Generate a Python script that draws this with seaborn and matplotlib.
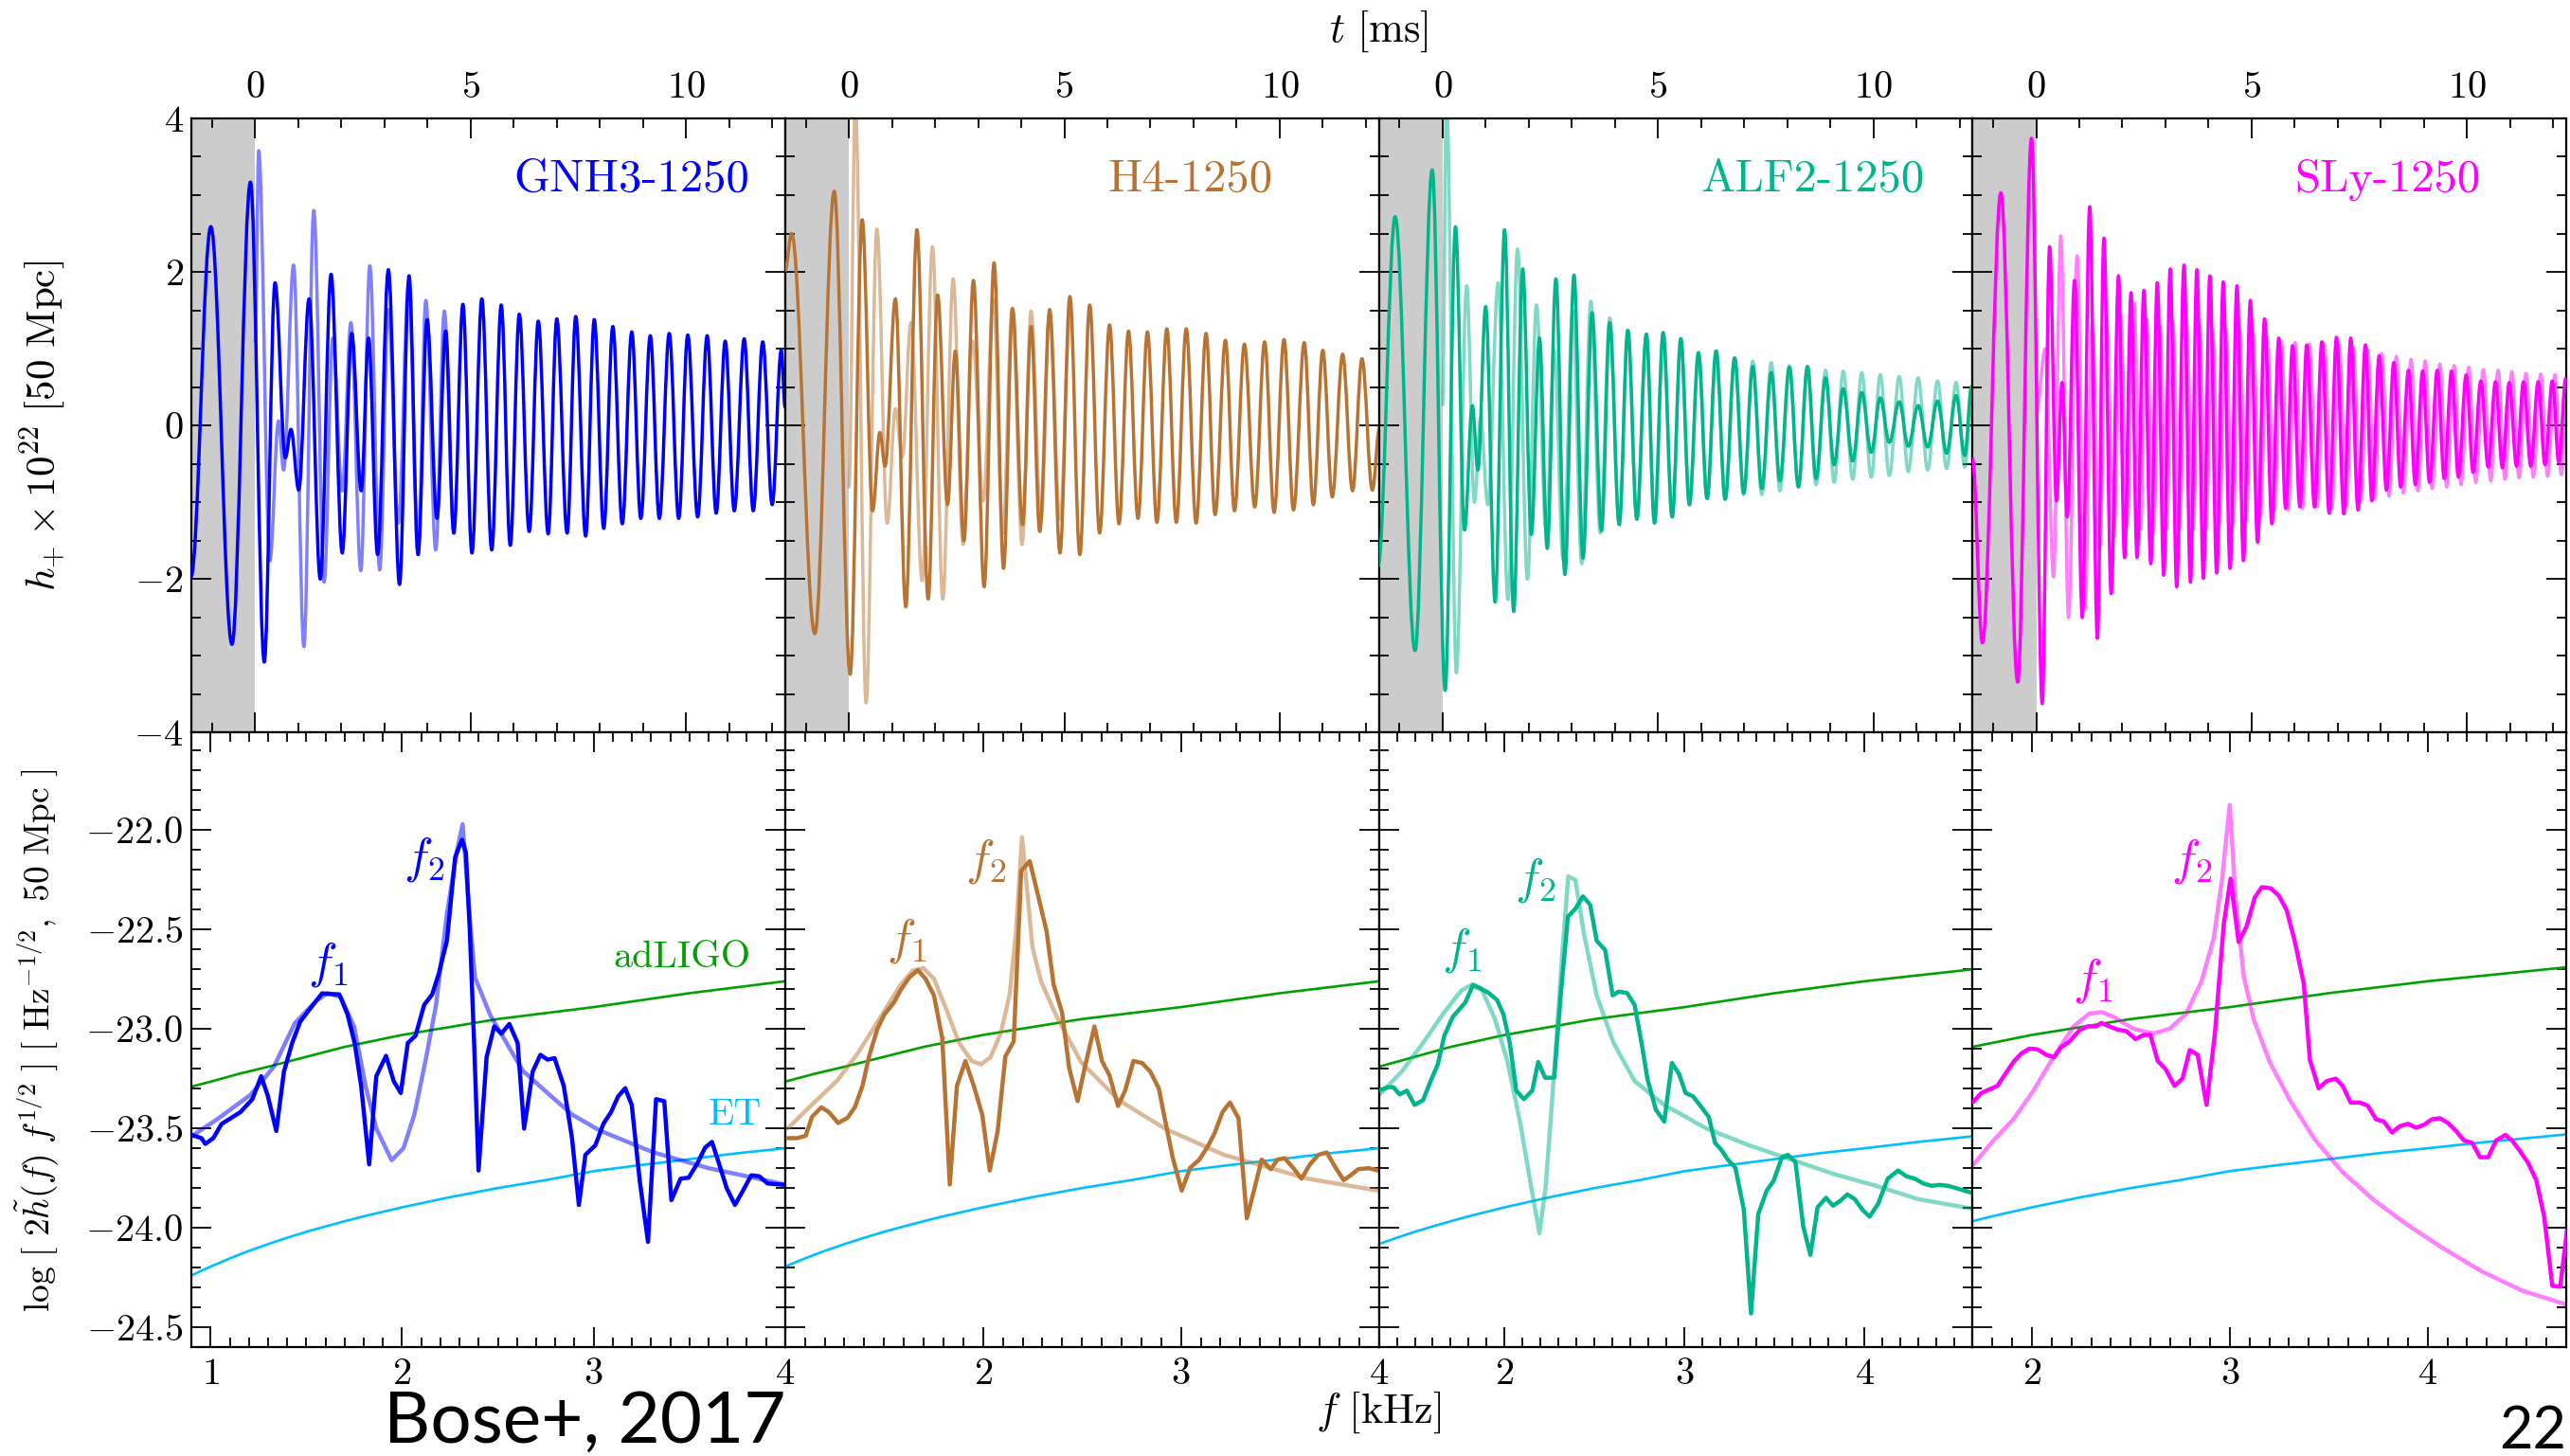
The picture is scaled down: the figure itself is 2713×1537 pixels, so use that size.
import numpy as np
import matplotlib
matplotlib.use("Agg")
import matplotlib.pyplot as plt
import seaborn as sns
from matplotlib.path import Path
from matplotlib.patches import PathPatch
from matplotlib.ticker import MultipleLocator, FixedLocator, FuncFormatter

# ---------------------------------------------------------------- data
MODELS = ["GNH3-1250", "H4-1250", "ALF2-1250", "SLy-1250"]
COLORS = ["#0000ff", "#b87333", "#00b48c", "#ff00ff"]
F_LIMITS = [(0.9, 4.0), (1.0, 4.0), (1.3, 4.6), (1.7, 4.7)]
F_MAJOR = [[1, 2, 3, 4], [2, 3, 4], [2, 3, 4], [2, 3, 4]]
T_LIMITS = (-1.48, 12.3)

# f1 / f2 annotation anchors (kHz, log amplitude)
F1_POS = [(1.61, -22.675), (1.614, -22.556), (1.762, -22.603), (2.308, -22.754)]
F2_POS = [(2.115, -22.148), (2.013, -22.156), (2.169, -22.251), (2.808, -22.156)]

# detector sensitivity curves, log[ sqrt(f) S_n^{1/2} ]
ADLIGO_F = [0.9, 1.0, 1.15, 1.3, 1.5, 1.7, 2.0, 2.25, 2.5, 2.75, 3.0, 3.25, 3.5, 3.75, 4.0, 4.3, 4.6, 4.7]
ADLIGO = [-23.29, -23.265, -23.225, -23.19, -23.14, -23.09, -23.03, -22.99, -22.95, -22.92,
          -22.89, -22.855, -22.82, -22.79, -22.76, -22.73, -22.70, -22.69]
ET_F = [0.9, 0.95, 1.0, 1.1, 1.2, 1.3, 1.4, 1.5, 1.6, 1.7, 1.8, 2.0, 2.25, 2.5, 2.75, 3.0,
        3.25, 3.5, 3.75, 4.0, 4.3, 4.6, 4.7]
ET = [-24.24, -24.217, -24.195, -24.154, -24.116, -24.082, -24.05, -24.02, -23.993, -23.967, -23.942,
      -23.897, -23.846, -23.80, -23.76, -23.715, -23.684, -23.655, -23.625, -23.60, -23.568, -23.54, -23.53]

# time-domain strain h_+ x 1e22 (t in ms): turning points of the waveform
GNH3_WAVE = [(-1.49, -1.97), (-1.03, 2.59), (-0.54, -2.85), (-0.11, 3.17), (0.21, -3.08), (0.46, 1.86),
             (0.70, -0.42), (0.83, -0.05), (1.01, -0.84), (1.25, 1.65), (1.51, -2.00), (1.76, 1.97),
             (2.02, -1.66), (2.24, 1.20), (2.46, -0.85), (2.63, 1.14), (2.84, -1.68), (3.09, 2.03),
             (3.35, -2.07), (3.57, 1.95), (3.78, -1.68), (3.99, 1.38), (4.22, -1.21), (4.42, 1.23),
             (4.61, -1.40), (4.82, 1.58), (5.03, -1.66), (5.26, 1.65), (5.49, -1.62), (5.71, 1.57),
             (5.92, -1.56), (6.13, 1.45), (6.36, -1.38), (6.57, 1.36), (6.80, -1.41), (7.00, 1.39),
             (7.24, -1.40), (7.44, 1.42), (7.67, -1.44), (7.87, 1.38), (8.09, -1.34), (8.30, 1.29),
             (8.52, -1.28), (8.74, 1.22), (8.95, -1.21), (9.17, 1.17), (9.38, -1.21), (9.61, 1.20),
             (9.83, -1.21), (10.04, 1.18), (10.27, -1.19), (10.49, 1.17), (10.70, -1.14), (10.91, 1.10),
             (11.12, -1.11), (11.35, 1.13), (11.56, -1.11), (11.78, 1.09), (12.00, -1.03), (12.21, 0.98),
             (12.30, 0.24)]
GNH3_WAVE_FIT = [(0.00, 1.10), (0.08, 3.58), (0.34, -1.76), (0.54, 0.06), (0.66, -0.58), (0.89, 2.09),
                 (1.13, -2.88), (1.36, 2.80), (1.60, -2.04), (1.80, 1.14), (2.02, -0.85), (2.22, 1.34),
                 (2.45, -1.89), (2.66, 2.08), (2.89, -1.88), (3.09, 1.51), (3.32, -1.27), (3.56, 1.86),
                 (3.78, -1.68), (3.96, 1.63), (4.19, -1.62), (4.39, 1.49), (4.61, -1.40)]

H4_WAVE = [(-1.48, 2.02), (-1.33, 2.50), (-0.79, -2.71), (-0.34, 3.05), (0.03, -3.24), (0.31, 2.68),
           (0.55, -1.11), (0.72, -0.09), (0.84, -0.53), (1.08, 1.65), (1.32, -2.36), (1.58, 2.55),
           (1.84, -2.26), (2.06, 1.70), (2.29, -1.03), (2.47, 0.97), (2.67, -1.50), (2.89, 1.89),
           (3.14, -2.10), (3.37, 2.12), (3.59, -1.86), (3.80, 1.52), (4.03, -1.29), (4.23, 1.29),
           (4.43, -1.38), (4.66, 1.51), (4.90, -1.66), (5.13, 1.68), (5.36, -1.68), (5.59, 1.57),
           (5.82, -1.40), (6.05, 1.31), (6.27, -1.28), (6.49, 1.23), (6.71, -1.21), (6.93, 1.22),
           (7.15, -1.26), (7.38, 1.26), (7.60, -1.26), (7.83, 1.26), (8.06, -1.27), (8.29, 1.20),
           (8.50, -1.16), (8.74, 1.11), (8.95, -1.11), (9.18, 1.06), (9.42, -1.06), (9.65, 1.09),
           (9.87, -1.13), (10.10, 1.12), (10.32, -1.10), (10.57, 1.08), (10.78, -1.03), (11.00, 0.98),
           (11.22, -0.93), (11.46, 0.93), (11.69, -0.85), (11.91, 0.87), (12.15, -0.84), (12.32, -0.02)]
H4_WAVE_FIT = [(0.00, -0.80), (0.15, 4.15), (0.40, -3.61), (0.65, 2.56), (0.89, -1.27), (1.08, 0.22),
               (1.24, -0.41), (1.44, 1.34), (1.70, -2.02), (1.94, 2.33), (2.18, -2.26), (2.42, 1.91),
               (2.65, -1.55), (2.87, 1.10), (3.12, -0.98), (3.35, 1.65), (3.57, -1.40), (3.79, 1.53),
               (4.02, -1.55), (4.23, 1.49), (4.46, -1.24), (4.66, 1.45), (4.90, -1.22), (5.13, 1.40)]

ALF2_WAVE = [(-1.50, -1.84), (-1.10, 2.72), (-0.64, -2.93), (-0.24, 3.33), (0.06, -3.45), (0.30, 2.59),
             (0.51, -1.36), (0.69, 0.26), (0.82, -0.58), (1.00, 1.55), (1.22, -2.30), (1.44, 2.55),
             (1.65, -2.42), (1.86, 2.04), (2.06, -1.42), (2.25, 1.14), (2.43, -1.60), (2.63, 1.91),
             (2.84, -1.94), (3.05, 1.96), (3.26, -1.73), (3.47, 1.47), (3.69, -1.37), (3.88, 1.34),
             (4.10, -1.29), (4.30, 1.24), (4.51, -1.22), (4.73, 1.19), (4.92, -1.27), (5.12, 1.21),
             (5.33, -1.19), (5.53, 1.13), (5.73, -1.03), (5.94, 0.95), (6.14, -0.95), (6.35, 0.97),
             (6.56, -0.96), (6.78, 0.88), (6.99, -0.88), (7.20, 0.77), (7.41, -0.82), (7.63, 0.69),
             (7.83, -0.72), (8.05, 0.76), (8.26, -0.80), (8.47, 0.77), (8.67, -0.69), (8.89, 0.62),
             (9.09, -0.51), (9.30, 0.48), (9.52, -0.46), (9.73, 0.43), (9.95, -0.35), (10.16, 0.36),
             (10.37, -0.22), (10.60, 0.31), (10.81, -0.27), (11.04, 0.26), (11.26, -0.28), (11.49, 0.32),
             (11.70, -0.36), (11.92, 0.39), (12.12, -0.39), (12.28, 0.51)]
ALF2_WAVE_FIT = [(0.00, 0.27), (0.09, 4.30), (0.32, -3.22), (0.56, 1.82), (0.74, -1.00), (0.88, 0.10),
                 (1.05, -1.03), (1.29, 1.86), (1.52, -2.27), (1.74, 2.30), (1.97, -2.00), (2.18, 1.57),
                 (2.40, -1.35), (2.59, 0.98), (2.80, -1.75), (3.02, 1.50), (3.23, -1.80), (3.44, 1.62),
                 (3.66, -1.40), (3.88, 1.40), (4.10, -1.29), (4.30, 1.24), (4.51, -1.22), (4.73, 1.19),
                 (4.92, -1.27), (5.12, 1.21), (5.33, -1.19), (5.53, 1.13), (5.73, -1.03), (5.94, 0.95),
                 (6.14, -0.95), (6.35, 0.97), (6.56, -0.96), (6.78, 0.88), (6.99, -0.90), (7.20, 0.84),
                 (7.41, -0.90), (7.63, 0.82), (7.83, -0.85), (8.05, 0.78), (8.26, -0.80), (8.47, 0.74),
                 (8.67, -0.77), (8.89, 0.72), (9.09, -0.74), (9.30, 0.71), (9.52, -0.70), (9.73, 0.69),
                 (9.95, -0.67), (10.16, 0.66), (10.37, -0.65), (10.60, 0.64), (10.81, -0.60), (11.04, 0.62),
                 (11.26, -0.58), (11.49, 0.58), (11.70, -0.56), (11.92, 0.56), (12.12, -0.54), (12.28, 0.30)]

SLY_WAVE = [(-1.48, -0.43), (-1.25, -2.83), (-0.82, 3.03), (-0.43, -3.34), (-0.11, 3.74), (0.14, -3.62),
            (0.31, 2.33), (0.47, -0.98), (0.60, 0.56), (0.72, -1.19), (0.89, 1.89), (1.07, -2.50),
            (1.24, 2.85), (1.42, -2.77), (1.57, 2.44), (1.74, -2.19), (1.91, 1.95), (2.05, -1.72),
            (2.20, 1.73), (2.34, -1.72), (2.50, 1.76), (2.66, -1.80), (2.81, 1.86), (2.96, -1.95),
            (3.11, 2.04), (3.26, -2.10), (3.43, 2.09), (3.58, -2.04), (3.73, 2.03), (3.88, -1.99),
            (4.03, 1.95), (4.19, -1.92), (4.34, 1.87), (4.50, -1.86), (4.66, 1.82), (4.81, -1.76),
            (4.97, 1.63), (5.14, -1.52), (5.30, 1.39), (5.47, -1.28), (5.63, 1.14), (5.79, -1.08),
            (5.95, 1.04), (6.12, -1.06), (6.28, 1.05), (6.46, -1.06), (6.63, 1.09), (6.80, -1.14),
            (6.97, 1.15), (7.14, -1.15), (7.30, 1.14), (7.47, -1.10), (7.64, 1.05), (7.79, -0.98),
            (7.96, 0.91), (8.13, -0.84), (8.30, 0.82), (8.46, -0.80), (8.64, 0.72), (8.80, -0.77),
            (8.97, 0.71), (9.13, -0.74), (9.31, 0.72), (9.47, -0.69), (9.64, 0.71), (9.80, -0.67),
            (9.98, 0.66), (10.14, -0.61), (10.32, 0.58), (10.49, -0.54), (10.66, 0.57), (10.82, -0.55),
            (10.98, 0.56), (11.15, -0.53), (11.31, 0.57), (11.48, -0.53), (11.65, 0.57), (11.81, -0.51),
            (11.98, 0.58), (12.13, -0.48), (12.29, 0.61)]
SLY_WAVE_FIT = [(0.00, 0.14), (0.21, 1.00), (0.40, -1.97), (0.57, 2.47), (0.75, -2.50), (0.95, 2.21),
                (1.13, -2.40), (1.30, 1.30), (1.47, -1.60), (1.63, 1.40), (1.80, -1.45), (1.96, 1.45),
                (2.11, -1.30), (2.27, 1.60), (2.42, -1.35), (2.56, 1.38), (2.72, -1.40), (2.87, 1.30),
                (3.02, -1.35), (3.17, 1.35), (3.32, -1.35), (3.49, 1.30), (3.64, -1.35), (3.79, 1.30),
                (3.94, -1.35), (4.09, 1.25), (4.25, -1.30), (4.40, 1.25), (4.56, -1.30), (4.72, 1.25),
                (4.87, -1.25), (5.03, 1.20), (5.20, -1.20), (5.36, 1.15), (5.53, -1.10), (5.69, 1.10),
                (5.85, -1.10), (6.01, 1.08), (6.18, -1.08), (6.34, 1.06), (6.52, -1.06), (6.69, 1.06),
                (6.86, -1.08), (7.03, 1.05), (7.20, -1.05), (7.36, 1.02), (7.53, -1.00), (7.70, 0.98),
                (7.85, -0.96), (8.02, 0.94), (8.19, -0.92), (8.36, 0.90), (8.52, -0.88), (8.70, 0.86),
                (8.86, -0.85), (9.03, 0.84), (9.19, -0.82), (9.37, 0.80), (9.53, -0.80), (9.70, 0.78),
                (9.86, -0.77), (10.04, 0.76), (10.20, -0.74), (10.38, 0.73), (10.55, -0.72), (10.72, 0.72),
                (10.88, -0.70), (11.04, 0.70), (11.21, -0.68), (11.37, 0.68), (11.54, -0.67), (11.71, 0.67),
                (11.87, -0.66), (12.04, 0.66), (12.19, -0.64), (12.30, 0.30)]

# frequency-domain spectra log[ 2|h~(f)| f^{1/2} ] (f in kHz)
GNH3_SPEC = [(0.901, -23.533), (0.952, -23.549), (0.972, -23.578), (1.014, -23.549), (1.057, -23.478),
             (1.156, -23.418), (1.218, -23.353), (1.264, -23.238), (1.298, -23.334), (1.343, -23.513),
             (1.383, -23.214), (1.426, -23.070), (1.468, -22.963), (1.525, -22.891), (1.582, -22.821),
             (1.624, -22.824), (1.672, -22.826), (1.715, -22.927), (1.752, -23.070), (1.786, -23.286),
             (1.828, -23.681), (1.865, -23.238), (1.916, -23.135), (1.956, -23.262), (1.993, -23.322),
             (2.030, -23.070), (2.070, -23.034), (2.115, -22.879), (2.157, -22.826), (2.191, -22.723),
             (2.234, -22.556), (2.277, -22.136), (2.313, -22.048), (2.333, -22.113), (2.353, -22.496),
             (2.376, -23.070), (2.399, -23.712), (2.441, -23.142), (2.481, -22.987), (2.518, -23.023),
             (2.560, -22.975), (2.603, -23.070), (2.637, -23.501), (2.682, -23.214), (2.722, -23.130),
             (2.759, -23.154), (2.796, -23.147), (2.844, -23.286), (2.887, -23.549), (2.923, -23.885),
             (2.957, -23.633), (3.009, -23.585), (3.051, -23.477), (3.091, -23.418), (3.128, -23.339),
             (3.165, -23.298), (3.199, -23.382), (3.241, -23.765), (3.284, -24.071), (3.326, -23.353),
             (3.369, -23.363), (3.406, -23.861), (3.454, -23.753), (3.496, -23.748), (3.539, -23.681),
             (3.582, -23.597), (3.618, -23.568), (3.652, -23.669), (3.695, -23.801), (3.738, -23.885),
             (3.780, -23.813), (3.823, -23.736), (3.865, -23.741), (3.908, -23.777), (3.993, -23.784)]
GNH3_SPEC_FIT = [(0.90, -23.54), (1.04, -23.45), (1.21, -23.33), (1.33, -23.19), (1.44, -22.97),
                 (1.55, -22.86), (1.61, -22.82), (1.68, -22.84), (1.75, -22.99), (1.81, -23.29),
                 (1.865, -23.50), (1.945, -23.66), (2.007, -23.60), (2.064, -23.43), (2.12, -23.17),
                 (2.177, -22.88), (2.234, -22.42), (2.285, -22.11), (2.316, -21.97), (2.348, -22.38),
                 (2.38, -22.74), (2.46, -22.93), (2.63, -23.21), (2.745, -23.31), (2.887, -23.43),
                 (3.03, -23.51), (3.31, -23.62), (3.60, -23.70), (3.99, -23.78)]

H4_SPEC = [(1.013, -23.549), (1.062, -23.549), (1.104, -23.537), (1.136, -23.442), (1.183, -23.394),
           (1.221, -23.418), (1.268, -23.473), (1.316, -23.446), (1.352, -23.394), (1.391, -23.286),
           (1.423, -23.142), (1.465, -23.003), (1.501, -22.927), (1.550, -22.867), (1.582, -22.807),
           (1.628, -22.740), (1.671, -22.704), (1.709, -22.747), (1.752, -22.831), (1.794, -23.046),
           (1.832, -23.782), (1.868, -23.286), (1.911, -23.161), (1.953, -23.286), (1.996, -23.430),
           (2.034, -23.712), (2.074, -23.513), (2.113, -23.137), (2.155, -23.063), (2.193, -22.204),
           (2.236, -22.156), (2.278, -22.328), (2.321, -22.508), (2.357, -22.778), (2.399, -22.915),
           (2.435, -23.195), (2.478, -23.363), (2.516, -23.185), (2.563, -22.987), (2.601, -23.161),
           (2.639, -23.233), (2.682, -23.387), (2.718, -23.310), (2.760, -23.161), (2.803, -23.171),
           (2.845, -23.214), (2.888, -23.298), (2.924, -23.478), (2.958, -23.645), (3.004, -23.813),
           (3.047, -23.698), (3.093, -23.657), (3.132, -23.597), (3.170, -23.525), (3.210, -23.418),
           (3.248, -23.370), (3.291, -23.449), (3.333, -23.952), (3.369, -23.813), (3.408, -23.657),
           (3.454, -23.705), (3.488, -23.657), (3.524, -23.650), (3.567, -23.698), (3.609, -23.753),
           (3.652, -23.681), (3.694, -23.633), (3.737, -23.621), (3.779, -23.693), (3.822, -23.760),
           (3.858, -23.736), (3.896, -23.705), (3.949, -23.700), (3.998, -23.712)]
H4_SPEC_FIT = [(1.013, -23.50), (1.136, -23.38), (1.263, -23.26), (1.369, -23.12), (1.476, -22.95),
               (1.582, -22.78), (1.645, -22.706), (1.699, -22.694), (1.752, -22.747), (1.815, -22.903),
               (1.879, -23.07), (1.943, -23.161), (1.99, -23.178), (2.038, -23.142), (2.09, -23.02),
               (2.134, -22.83), (2.166, -22.52), (2.197, -22.036), (2.223, -22.304), (2.25, -22.59),
               (2.293, -22.76), (2.367, -22.927), (2.495, -23.166), (2.686, -23.358), (2.919, -23.501),
               (3.217, -23.633), (3.429, -23.693), (3.641, -23.753), (3.998, -23.813)]

ALF2_SPEC = [(1.299, -23.310), (1.353, -23.293), (1.381, -23.293), (1.416, -23.329), (1.456, -23.310),
             (1.499, -23.382), (1.546, -23.358), (1.588, -23.262), (1.628, -23.178), (1.664, -23.034),
             (1.711, -22.939), (1.781, -22.867), (1.824, -22.778), (1.864, -22.795), (1.911, -22.819),
             (1.958, -22.855), (1.993, -22.927), (2.028, -23.070), (2.064, -23.310), (2.106, -23.353),
             (2.153, -23.310), (2.186, -23.166), (2.224, -23.245), (2.275, -23.245), (2.311, -22.831),
             (2.351, -22.436), (2.393, -22.395), (2.435, -22.333), (2.475, -22.376), (2.511, -22.556),
             (2.558, -22.603), (2.600, -22.831), (2.633, -22.812), (2.680, -22.819), (2.722, -22.879),
             (2.765, -23.094), (2.793, -23.250), (2.840, -23.406), (2.887, -23.466), (2.929, -23.171),
             (2.969, -23.226), (3.005, -23.322), (3.047, -23.339), (3.094, -23.394), (3.134, -23.442),
             (3.169, -23.573), (3.205, -23.609), (3.240, -23.657), (3.282, -23.698), (3.329, -23.909),
             (3.369, -24.431), (3.409, -23.932), (3.456, -23.813), (3.494, -23.765), (3.541, -23.645),
             (3.574, -23.633), (3.616, -23.669), (3.659, -23.992), (3.699, -24.136), (3.739, -23.897),
             (3.786, -23.849), (3.824, -23.889), (3.864, -23.865), (3.904, -23.832), (3.946, -23.856),
             (3.988, -23.909), (4.028, -23.944), (4.075, -23.880), (4.129, -23.753), (4.186, -23.712),
             (4.233, -23.741), (4.280, -23.753), (4.327, -23.777), (4.374, -23.789), (4.416, -23.784),
             (4.464, -23.789), (4.511, -23.801), (4.600, -23.825)]
ALF2_SPEC_FIT = [(1.299, -23.334), (1.428, -23.214), (1.546, -23.070), (1.664, -22.915), (1.758, -22.807),
                 (1.816, -22.778), (1.875, -22.807), (1.946, -22.951), (2.016, -23.166), (2.087, -23.477),
                 (2.146, -23.789), (2.193, -24.028), (2.228, -23.789), (2.275, -23.214), (2.322, -22.591),
                 (2.353, -22.232), (2.393, -22.251), (2.44, -22.52), (2.511, -22.831), (2.605, -23.070),
                 (2.722, -23.262), (2.887, -23.382), (3.122, -23.501), (3.358, -23.585), (3.593, -23.657),
                 (3.828, -23.729), (4.064, -23.789), (4.299, -23.856), (4.6, -23.904)]

SLY_SPEC = [(1.700, -23.370), (1.745, -23.322), (1.826, -23.286), (1.866, -23.226), (1.907, -23.166),
            (1.947, -23.123), (1.988, -23.099), (2.028, -23.102), (2.073, -23.130), (2.113, -23.142),
            (2.146, -23.094), (2.190, -23.063), (2.241, -23.006), (2.281, -22.987), (2.322, -22.987),
            (2.352, -22.970), (2.393, -22.987), (2.433, -23.003), (2.478, -23.011), (2.524, -23.051),
            (2.565, -23.030), (2.599, -23.030), (2.636, -23.161), (2.676, -23.202), (2.721, -23.286),
            (2.761, -23.250), (2.798, -23.106), (2.838, -23.130), (2.883, -23.382), (2.925, -23.023),
            (2.970, -22.472), (3.004, -22.244), (3.045, -22.563), (3.085, -22.484), (3.126, -22.340),
            (3.162, -22.287), (3.206, -22.292), (3.247, -22.328), (3.287, -22.400), (3.328, -22.556),
            (3.374, -22.771), (3.405, -23.154), (3.449, -23.298), (3.490, -23.262), (3.536, -23.250),
            (3.571, -23.286), (3.611, -23.370), (3.658, -23.370), (3.698, -23.386), (3.739, -23.454),
            (3.779, -23.466), (3.820, -23.521), (3.860, -23.489), (3.901, -23.477), (3.941, -23.497),
            (3.982, -23.482), (4.022, -23.454), (4.063, -23.449), (4.103, -23.473), (4.144, -23.513),
            (4.184, -23.561), (4.225, -23.573), (4.265, -23.645), (4.306, -23.645), (4.346, -23.561),
            (4.393, -23.533), (4.427, -23.561), (4.468, -23.616), (4.508, -23.674), (4.549, -23.760),
            (4.589, -23.944), (4.630, -24.292), (4.670, -24.296), (4.704, -24.016)]
SLY_SPEC_FIT = [(1.70, -23.688), (1.806, -23.561), (1.907, -23.454), (2.008, -23.310), (2.109, -23.142),
                (2.211, -22.987), (2.291, -22.922), (2.352, -22.915), (2.413, -22.939), (2.514, -22.999),
                (2.615, -23.023), (2.696, -22.999), (2.777, -22.927), (2.858, -22.759), (2.919, -22.544),
                (2.960, -22.256), (3.000, -21.873), (3.030, -22.352), (3.071, -22.735), (3.121, -22.951),
                (3.202, -23.166), (3.304, -23.358), (3.425, -23.549), (3.567, -23.717), (3.729, -23.861),
                (3.891, -23.980), (4.073, -24.100), (4.275, -24.220), (4.478, -24.316), (4.704, -24.387)]

WAVES = [GNH3_WAVE, H4_WAVE, ALF2_WAVE, SLY_WAVE]
WAVE_FITS = [GNH3_WAVE_FIT, H4_WAVE_FIT, ALF2_WAVE_FIT, SLY_WAVE_FIT]
SPECS = [GNH3_SPEC, H4_SPEC, ALF2_SPEC, SLY_SPEC]
SPEC_FITS = [GNH3_SPEC_FIT, H4_SPEC_FIT, ALF2_SPEC_FIT, SLY_SPEC_FIT]

# ---------------------------------------------------------------- style
sns.set_theme(style="ticks")
plt.rcParams.update({
    "font.family": ["cmr10", "DejaVu Serif"],
    "mathtext.fontset": "cm",
    "axes.formatter.use_mathtext": True,
    "axes.edgecolor": "black",
    "axes.linewidth": 1.6,
    "axes.facecolor": "white",
    "figure.facecolor": "white",
    "xtick.color": "black",
    "ytick.color": "black",
    "text.color": "black",
})

TICK_FS = 29
ADLIGO_C = "#00a000"
ET_C = "#00bfff"
SHADE_C = "#cccccc"

fig, axes = plt.subplots(2, 4, figsize=(27.13, 15.37), dpi=100)
fig.subplots_adjust(left=0.0745, right=0.9985, top=0.9187, bottom=0.0748, wspace=0, hspace=0)


def style_ticks(ax):
    ax.tick_params(which="both", direction="in", top=True, bottom=True, left=True, right=True,
                   width=1.3, colors="black", labelsize=TICK_FS)
    ax.tick_params(which="major", length=15)
    ax.tick_params(which="minor", length=7.5)


def line(ax, pts, color, lw, alpha=1.0, z=2):
    arr = np.asarray(pts, dtype=float)
    sns.lineplot(x=arr[:, 0], y=arr[:, 1], ax=ax, color=color, lw=lw, alpha=alpha,
                 estimator=None, sort=False, errorbar=None, zorder=z)


def wave(ax, pts, color, lw, alpha=1.0, z=2):
    """Oscillating strain drawn through its turning points, each half cycle
    rendered as a cubic segment with flat tangents at the crest and trough."""
    arr = np.asarray(pts, dtype=float)
    k = 0.3642
    verts = [tuple(arr[0])]
    codes = [Path.MOVETO]
    for (t0, h0), (t1, h1) in zip(arr[:-1], arr[1:]):
        dt = t1 - t0
        verts += [(t0 + k * dt, h0), (t1 - k * dt, h1), (t1, h1)]
        codes += [Path.CURVE4] * 3
    ax.add_patch(PathPatch(Path(verts, codes), fill=False, edgecolor=color, lw=lw,
                           alpha=alpha, zorder=z, joinstyle="round", capstyle="round"))


for i in range(4):
    c = COLORS[i]
    # ---------------- time domain
    ax = axes[0, i]
    ax.axvspan(T_LIMITS[0], 0.0, color=SHADE_C, lw=0, zorder=0)
    wave(ax, WAVE_FITS[i], c, 2.5, alpha=0.5, z=2)
    wave(ax, WAVES[i], c, 2.5, z=3)
    ax.set_xlim(*T_LIMITS)
    ax.set_ylim(-4, 4)
    ax.xaxis.set_major_locator(MultipleLocator(5))
    ax.xaxis.set_minor_locator(MultipleLocator(1))
    ax.yaxis.set_major_locator(MultipleLocator(2))
    ax.yaxis.set_minor_locator(MultipleLocator(0.5))
    style_ticks(ax)
    ax.tick_params(axis="x", which="both", labeltop=True, labelbottom=False, pad=10)
    ax.tick_params(axis="y", which="both", labelleft=(i == 0), labelright=False, pad=6)
    ax.xaxis.set_major_formatter(FuncFormatter(lambda v, p: f"${v:g}$"))
    ax.yaxis.set_major_formatter(FuncFormatter(lambda v, p: f"${v:.0f}$"))
    ax.set_xlabel("")
    ax.set_ylabel("")
    ax.text(0.543, 0.90, MODELS[i], transform=ax.transAxes, ha="left", va="center",
            fontsize=35, color=c)

    # ---------------- frequency domain
    ax = axes[1, i]
    line(ax, list(zip(ADLIGO_F, ADLIGO)), ADLIGO_C, 1.9, z=1)
    line(ax, list(zip(ET_F, ET)), ET_C, 1.9, z=1)
    line(ax, SPEC_FITS[i], c, 3.2, alpha=0.5, z=2)
    line(ax, SPECS[i], c, 3.2, z=3)
    ax.set_xlim(*F_LIMITS[i])
    ax.set_ylim(-24.6, -21.51)
    ax.xaxis.set_major_locator(FixedLocator(F_MAJOR[i]))
    ax.xaxis.set_minor_locator(MultipleLocator(0.1))
    ax.yaxis.set_major_locator(MultipleLocator(0.5))
    ax.yaxis.set_minor_locator(MultipleLocator(0.1))
    style_ticks(ax)
    ax.tick_params(axis="x", which="both", labelbottom=True, labeltop=False, pad=8)
    ax.tick_params(axis="y", which="both", labelleft=(i == 0), labelright=False, pad=6)
    ax.xaxis.set_major_formatter(FuncFormatter(lambda v, p: f"${v:g}$"))
    ax.yaxis.set_major_formatter(FuncFormatter(lambda v, p: f"${v:.1f}$"))
    ax.set_xlabel("")
    ax.set_ylabel("")
    ax.text(*F1_POS[i], r"$f_1$", color=c, fontsize=37, ha="center", va="center")
    ax.text(*F2_POS[i], r"$f_2$", color=c, fontsize=37, ha="center", va="center")
    if i == 0:
        ax.text(3.82, -22.64, "adLIGO", color=ADLIGO_C, fontsize=29, ha="right", va="center")
        ax.text(3.88, -23.434, "ET", color=ET_C, fontsize=29, ha="right", va="center")

# ---------------------------------------------------------------- labels
xc = 0.5 * (0.0745 + 0.9985)
fig.text(xc, 1 - 33 / 1537, r"$t\ [\mathrm{ms}]$", ha="center", va="center", fontsize=32)
fig.text(xc, 1 - 1491 / 1537, r"$f\ [\mathrm{kHz}]$", ha="center", va="center", fontsize=32)
fig.text(46 / 2713, 1 - 450 / 1537, r"$h_{+}\times 10^{22}\ [50\ \mathrm{Mpc}]$",
         rotation=90, ha="center", va="center", fontsize=31)
fig.text(40 / 2713, 1 - 1098 / 1537,
         r"$\log\,[\ 2\tilde{h}(f)\ f^{1/2}\ ]\ [\ \mathrm{Hz}^{-1/2},\ 50\ \mathrm{Mpc}\ ]$",
         rotation=90, ha="center", va="center", fontsize=27)
fig.text(405 / 2713, 14 / 1537, "Bose+, 2017", family=["Lato", "DejaVu Sans"],
         fontsize=55, ha="left", va="baseline")
fig.text(2709 / 2713, 8 / 1537, "22", family=["Lato", "DejaVu Sans"],
         fontsize=44, ha="right", va="baseline")

fig.savefig("out.png", dpi=100)
